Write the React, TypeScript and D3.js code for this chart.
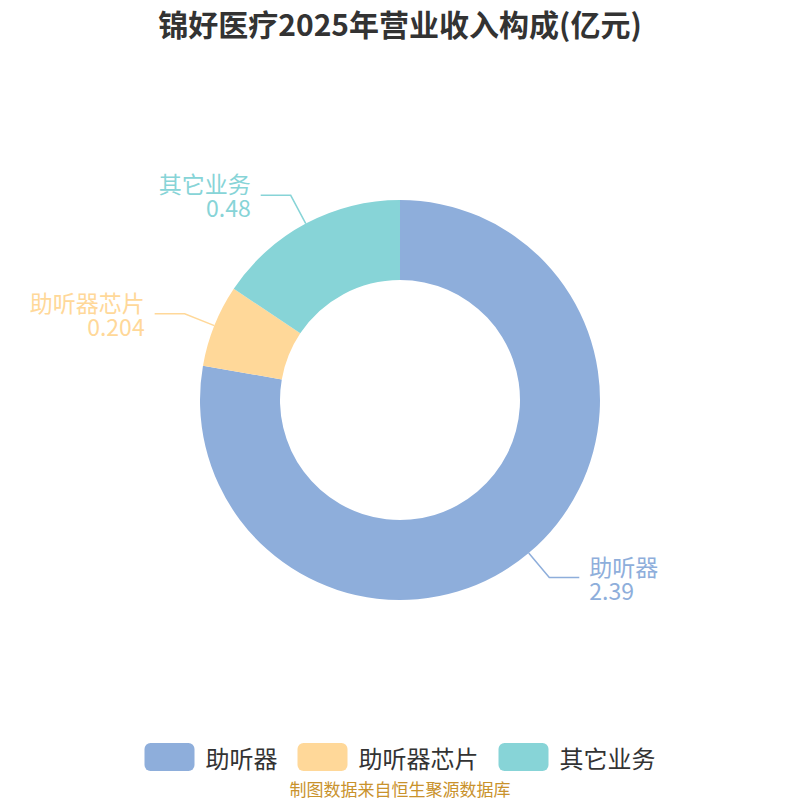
import * as d3 from "d3";

const names = ["助听器", "助听器芯片", "其它业务"];
const values = [2.39, 0.204, 0.48];
const valueLabels = ["2.39", "0.204", "0.48"];
const colors = ["#8eaedb", "#ffd899", "#87d4d7"];

const title = "锦好医疗2025年营业收入构成(亿元)";
const source = "制图数据来自恒生聚源数据库";

const W = 800;
const H = 800;
const cx = 400;
const cy = 400;
const outer = 200;
const inner = 120;
const font = '"Noto Sans CJK SC", "Noto Sans", sans-serif';

type Slice = { name: string; value: number; label: string; color: string };

export default function App() {
  const data: Slice[] = names.map((name, i) => ({
    name,
    value: values[i],
    label: valueLabels[i],
    color: colors[i],
  }));

  const pie = d3
    .pie<Slice>()
    .sort(null)
    .value((d) => d.value);
  const arcs = pie(data);
  const arc = d3.arc<d3.PieArcDatum<Slice>>().innerRadius(inner).outerRadius(outer);

  // legend layout: box, gap, text, spacing
  const legendFont = 24;
  const boxW = 50;
  const boxH = 28;
  const widths = names.map((n) => boxW + 11 + n.length * legendFont);
  const spacing = 20;
  const totalW = widths.reduce((a, b) => a + b, 0) + spacing * (names.length - 1);
  let lx = (W - totalW) / 2;
  const legendX = widths.map((w) => {
    const x = lx;
    lx += w + spacing;
    return x;
  });

  return (
    <svg
      width={W}
      height={H}
      style={{ position: "absolute", left: 0, top: 0, background: "#fff" }}
      fontFamily={font}
    >
      <text
        x={W / 2}
        y={23}
        textAnchor="middle"
        dominantBaseline="central"
        fontSize={30}
        fontWeight="bold"
        fill="#333"
      >
        {title}
      </text>

      <g transform={`translate(${cx},${cy})`}>
        {arcs.map((a) => (
          <path key={a.data.name} d={arc(a) ?? ""} fill={a.data.color} />
        ))}
        {arcs.map((a) => {
          const mid = (a.startAngle + a.endAngle) / 2;
          const right = Math.sin(mid) >= 0;
          const sx = Math.sin(mid) * outer;
          const sy = -Math.cos(mid) * outer;
          // leader line: radial part, then a horizontal tail
          const ex = Math.sin(mid) * 232;
          const ey = -Math.cos(mid) * 232;
          const hx = ex + (right ? 30 : -30);
          const tx = hx + (right ? 10 : -10);
          return (
            <g key={a.data.name}>
              <polyline
                points={`${sx},${sy} ${ex},${ey} ${hx},${ey}`}
                fill="none"
                stroke={a.data.color}
                strokeWidth={1.5}
              />
              <text
                textAnchor={right ? "start" : "end"}
                dominantBaseline="central"
                fontSize={23}
                fill={a.data.color}
              >
                <tspan x={tx} y={ey - 12}>
                  {a.data.name}
                </tspan>
                <tspan x={tx} y={ey + 12}>
                  {a.data.label}
                </tspan>
              </text>
            </g>
          );
        })}
      </g>

      {names.map((n, i) => (
        <g key={n} transform={`translate(${legendX[i]},757)`}>
          <rect x={0} y={-boxH / 2} width={boxW} height={boxH} rx={6} fill={colors[i]} />
          <text
            x={boxW + 11}
            y={0}
            dominantBaseline="central"
            fontSize={legendFont}
            fill="#333"
          >
            {n}
          </text>
        </g>
      ))}

      <text
        x={W / 2}
        y={788}
        textAnchor="middle"
        dominantBaseline="central"
        fontSize={17}
        fill="#c9922c"
      >
        {source}
      </text>
    </svg>
  );
}
